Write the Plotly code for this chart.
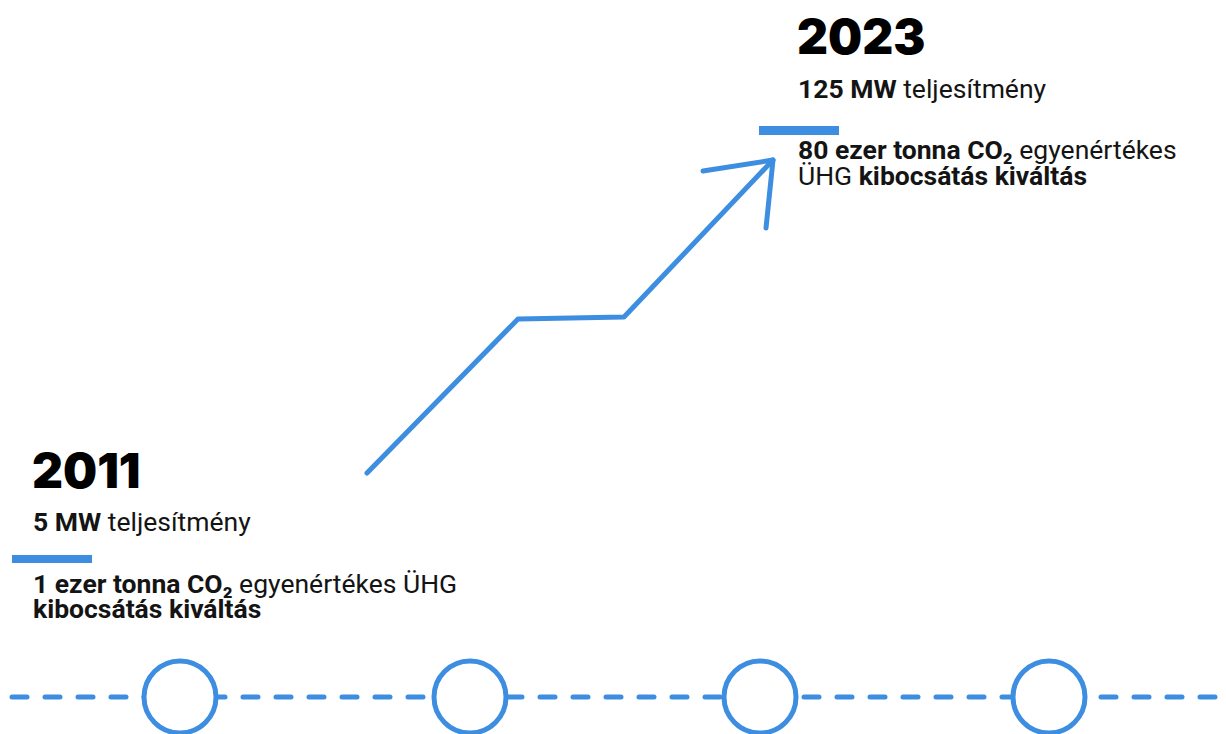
import plotly.graph_objects as go

# ---- data ----
years = ["2011", "2023"]
capacity_mw = ["5", "125"]
co2_thousand_t = ["1", "80"]
co2_lines = [
    ["<b>1 ezer tonna CO₂</b> egyenértékes ÜHG", "<b>kibocsátás kiváltás</b>"],
    ["<b>80 ezer tonna CO₂</b> egyenértékes", "ÜHG <b>kibocsátás kiváltás</b>"],
]
# decorative growth arrow path (page pixel coordinates)
arrow_x = [367, 518, 624, 773]
arrow_y = [473, 319, 317, 160]
head_x = [703, 773, 766]
head_y = [171, 160, 228]
# timeline nodes
node_x = [180, 470, 760, 1049]

W, H = 1226, 734
BLUE = "#3d8ee0"
TL_Y = 697
TXT = "#141414"

fig = go.Figure()

# dashed timeline (round caps added in post_script, so dash is drawn shorter)
fig.add_trace(go.Scatter(x=[12, 1226], y=[TL_Y, TL_Y], mode="lines",
                         line=dict(color=BLUE, width=5, dash="15px,18px"),
                         hoverinfo="skip", showlegend=False))
# nodes
fig.add_trace(go.Scatter(x=node_x, y=[TL_Y] * len(node_x), mode="markers",
                         marker=dict(symbol="circle", size=72, color="white",
                                     line=dict(color=BLUE, width=5)),
                         hoverinfo="skip", showlegend=False))
# arrow
fig.add_trace(go.Scatter(x=arrow_x, y=arrow_y, mode="lines",
                         line=dict(color=BLUE, width=5),
                         hoverinfo="skip", showlegend=False))
fig.add_trace(go.Scatter(x=head_x, y=head_y, mode="lines",
                         line=dict(color=BLUE, width=5),
                         hoverinfo="skip", showlegend=False))

# text blocks
YS = 48     # year font size
TS = 26.5   # body font size
blocks = [
    dict(x=33, year_base=488, mw_base=531, bar=(12, 92, 555, 563), co2_base=[593, 618]),
    dict(x=798, year_base=54, mw_base=98, bar=(759, 839, 126, 135), co2_base=[159, 185]),
]
for i, b in enumerate(blocks):
    fig.add_annotation(x=b["x"] - 3, y=b["year_base"] - 0.3635 * YS, text=years[i],
                       xanchor="left", yanchor="middle", showarrow=False,
                       font=dict(family="Inter", size=YS, color="#000", weight=900))
    fig.add_annotation(x=b["x"] - 2, y=b["mw_base"] - 0.3415 * TS,
                       text=f"<b>{capacity_mw[i]} MW</b> teljesítmény",
                       xanchor="left", yanchor="middle", showarrow=False,
                       font=dict(family="Roboto", size=TS, color=TXT))
    x0, x1, y0, y1 = b["bar"]
    fig.add_shape(type="rect", x0=x0, x1=x1, y0=y0, y1=y1, fillcolor=BLUE, line_width=0)
    for ln, yb in zip(co2_lines[i], b["co2_base"]):
        fig.add_annotation(x=b["x"] - 2, y=yb - 0.3415 * TS, text=ln,
                           xanchor="left", yanchor="middle", showarrow=False,
                           font=dict(family="Roboto", size=TS, color=TXT))

fig.update_layout(
    width=W, height=H, margin=dict(l=0, r=0, t=0, b=0),
    paper_bgcolor="white", plot_bgcolor="white", showlegend=False,
    xaxis=dict(range=[0, W], visible=False, fixedrange=True),
    yaxis=dict(range=[H, 0], visible=False, fixedrange=True),
)

post = (
    "document.body.style.margin='0';document.body.style.overflow='hidden';"
    "document.querySelectorAll('.scatterlayer path.js-line').forEach(function(p){"
    "p.style.strokeLinecap='round';p.style.strokeLinejoin='round';});"
)
fig.write_html("out.html", config={"displayModeBar": False}, post_script=post)
